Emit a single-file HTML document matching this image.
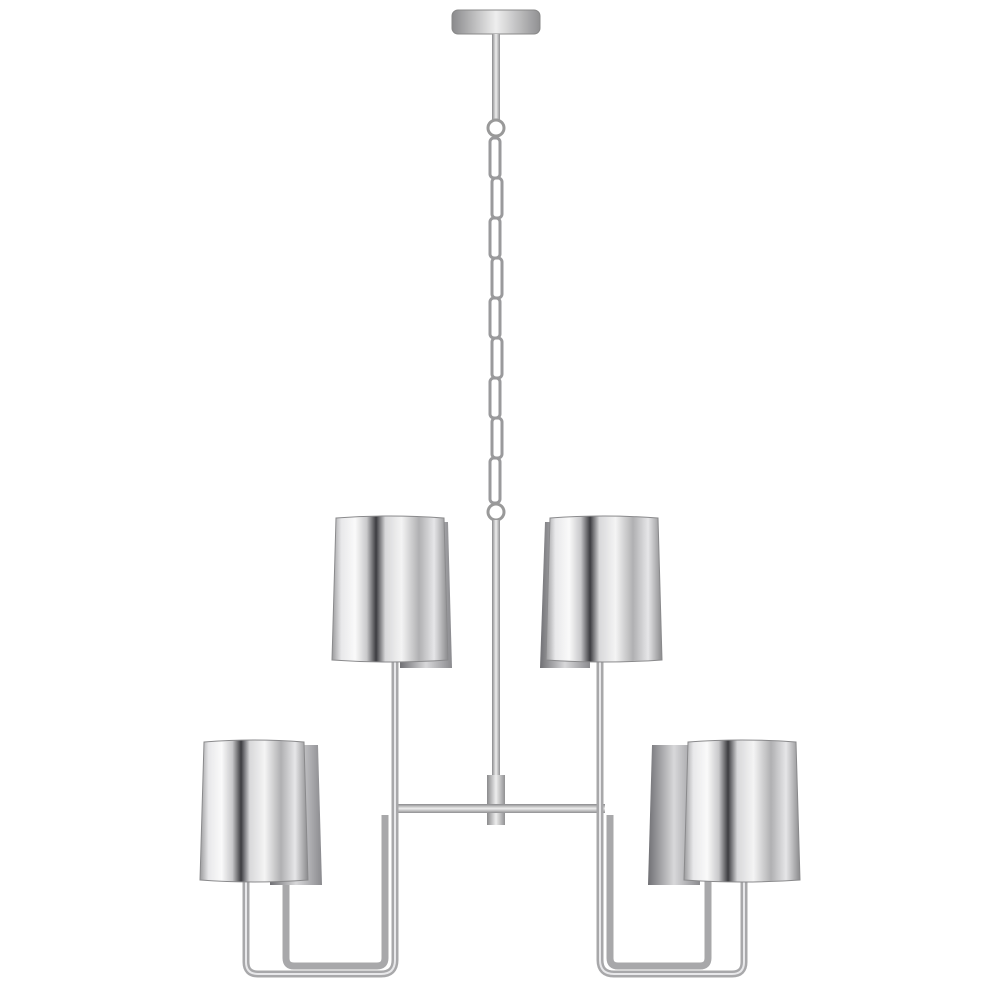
<!DOCTYPE html>
<html><head><meta charset="utf-8"><style>html,body{margin:0;padding:0;background:#fff;width:1000px;height:1000px;overflow:hidden}</style></head>
<body>
<svg width="1000" height="1000" viewBox="0 0 1000 1000" xmlns="http://www.w3.org/2000/svg">
<defs>
<linearGradient id="shade" x1="0" x2="1" y1="0" y2="0">
<stop offset="0" stop-color="#9a9a9c"/>
<stop offset="0.08" stop-color="#e8e8ea"/>
<stop offset="0.2" stop-color="#fafafa"/>
<stop offset="0.3" stop-color="#c8c8ca"/>
<stop offset="0.38" stop-color="#3c3c40"/>
<stop offset="0.46" stop-color="#d8d8da"/>
<stop offset="0.6" stop-color="#f4f4f4"/>
<stop offset="0.75" stop-color="#b0b0b2"/>
<stop offset="0.88" stop-color="#e6e6e8"/>
<stop offset="1" stop-color="#8a8a8c"/>
</linearGradient>
<linearGradient id="back" x1="0" x2="1">
<stop offset="0" stop-color="#707074"/>
<stop offset="0.5" stop-color="#d8d8da"/>
<stop offset="1" stop-color="#8a8a8e"/>
</linearGradient>
<linearGradient id="rod" x1="0" x2="1">
<stop offset="0" stop-color="#8a8a8c"/>
<stop offset="0.5" stop-color="#eeeeee"/>
<stop offset="1" stop-color="#909092"/>
</linearGradient>
<linearGradient id="rodh" x1="0" x2="0" y1="0" y2="1">
<stop offset="0" stop-color="#8a8a8c"/>
<stop offset="0.5" stop-color="#eeeeee"/>
<stop offset="1" stop-color="#909092"/>
</linearGradient>
</defs>
<!-- canopy -->
<rect x="452" y="10" width="88" height="24" rx="6" fill="url(#rod)" stroke="#888" stroke-width="1"/>
<rect x="492" y="34" width="8" height="86" fill="url(#rod)"/>
<circle cx="496" cy="128" r="8" fill="none" stroke="#999" stroke-width="3"/>
<!-- chain -->
<g fill="none" stroke="#9a9a9c" stroke-width="3">
<rect x="490" y="138" width="10" height="40" rx="4"/>
<rect x="492" y="178" width="10" height="40" rx="4"/>
<rect x="490" y="218" width="10" height="40" rx="4"/>
<rect x="492" y="258" width="10" height="40" rx="4"/>
<rect x="490" y="298" width="10" height="40" rx="4"/>
<rect x="492" y="338" width="10" height="40" rx="4"/>
<rect x="490" y="378" width="10" height="40" rx="4"/>
<rect x="492" y="418" width="10" height="40" rx="4"/>
<rect x="490" y="458" width="10" height="45" rx="4"/>
</g>
<circle cx="496" cy="512" r="8" fill="none" stroke="#999" stroke-width="3"/>
<!-- center rod -->
<rect x="492" y="520" width="8" height="260" fill="url(#rod)"/>
<rect x="487" y="775" width="18" height="50" fill="url(#rod)"/>
<rect x="395" y="804" width="210" height="9" fill="url(#rodh)"/>
<!-- arms -->
<g fill="none" stroke="#a8a8aa" stroke-width="7" stroke-linejoin="round">
<path d="M395 660 V960 Q395 974 381 974 H258 Q246 974 246 962 V880"/>
<path d="M385 815 V958 Q385 966 377 966 H294 Q286 966 286 958 V880"/>
<path d="M600 660 V960 Q600 974 614 974 H732 Q744 974 744 962 V880"/>
<path d="M610 815 V958 Q610 966 618 966 H700 Q708 966 708 958 V880"/>
</g>
<g fill="none" stroke="#e8e8ea" stroke-width="2">
<path d="M395 660 V960 Q395 974 381 974 H258 Q246 974 246 962 V880"/>
<path d="M600 660 V960 Q600 974 614 974 H732 Q744 974 744 962 V880"/>
</g>
<!-- back shades -->
<path d="M400 522 H448 L452 668 H400 Z" fill="url(#back)"/>
<path d="M545 522 H590 V668 H540 Z" fill="url(#back)"/>
<path d="M270 745 H318 L322 885 H270 Z" fill="url(#back)"/>
<path d="M652 745 H700 V885 H648 Z" fill="url(#back)"/>
<!-- front shades -->
<path d="M336 518 Q390 514 444 518 L448 660 Q390 664 332 660 Z" fill="url(#shade)" stroke="#8a8a8c" stroke-width="1"/>
<path d="M550 518 Q604 514 658 518 L662 660 Q604 664 546 660 Z" fill="url(#shade)" stroke="#8a8a8c" stroke-width="1"/>
<path d="M204 742 Q254 738 304 742 L308 880 Q254 884 200 880 Z" fill="url(#shade)" stroke="#8a8a8c" stroke-width="1"/>
<path d="M688 742 Q742 738 796 742 L800 880 Q742 884 684 880 Z" fill="url(#shade)" stroke="#8a8a8c" stroke-width="1"/>
</svg>
</body></html>
